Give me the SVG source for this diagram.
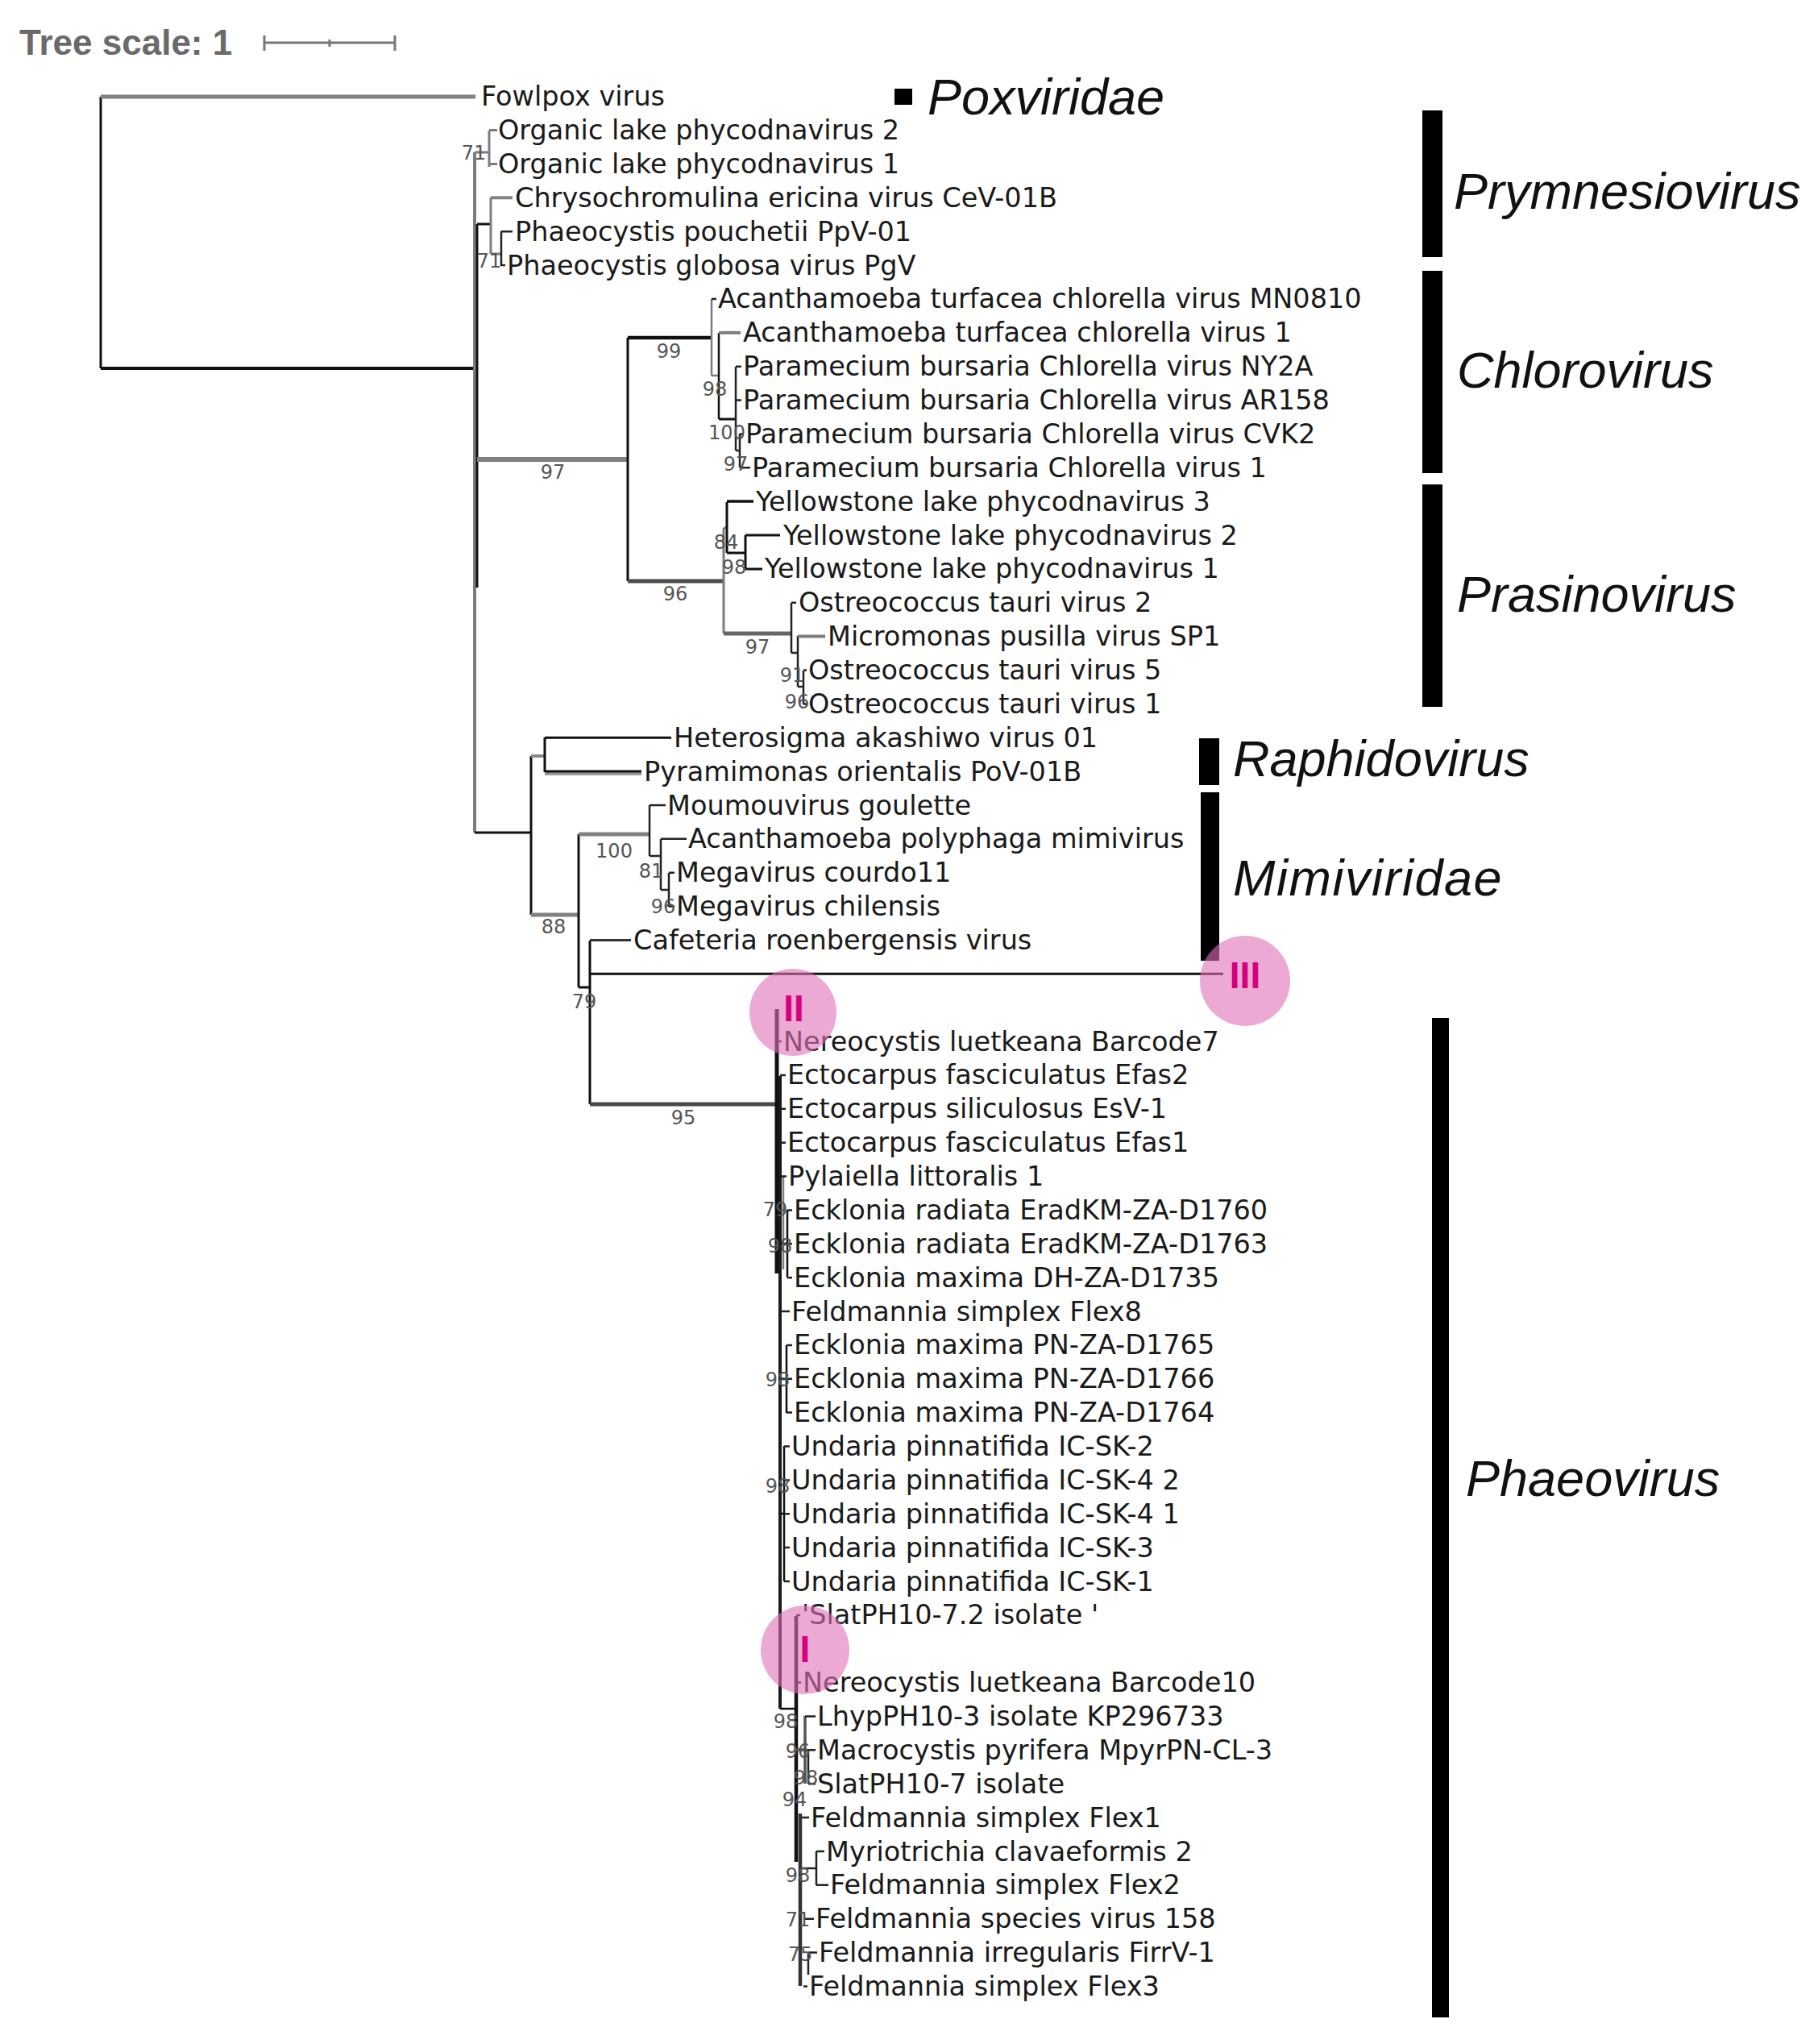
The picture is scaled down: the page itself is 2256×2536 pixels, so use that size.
<svg xmlns="http://www.w3.org/2000/svg" width="2256" height="2536" viewBox="0 0 2256 2536">
<style>
.lf{font-family:"DejaVu Sans",sans-serif;font-size:33.5px;fill:#1a1a1a}
.bs{font-family:"DejaVu Sans",sans-serif;font-size:24px;fill:#555;text-anchor:middle}
.cl{font-family:"Liberation Sans",Arial,sans-serif;font-size:63px;font-style:italic;fill:#111}
.mk{font-family:"Liberation Sans",Arial,sans-serif;font-size:46px;font-weight:bold;fill:#d4007d;text-anchor:middle}
.k{stroke:#111;stroke-width:3;fill:none}
.kt{stroke:#111;stroke-width:4.5;fill:none}
.g{stroke:#7d7d7d;stroke-width:3;fill:none}
.gt{stroke:#808080;stroke-width:6;fill:none}
.dg{stroke:#4a4a4a;stroke-width:5;fill:none}
.t{stroke:#222;stroke-width:2.5;fill:none}
.bar{fill:#000}
.circ{fill:#df6fb6;fill-opacity:0.6}
</style>
<rect width="2256" height="2536" fill="#fff"/>
<g id="tree-scale">
<text x="24" y="68" style="font-family:'Liberation Sans',Arial,sans-serif;font-size:44px;font-weight:bold;fill:#6a6a6a">Tree scale: 1</text>
<path d="M328 53H490M328 44V63M490 44V63M409 49V58" stroke="#777" stroke-width="3" fill="none"/>
</g>
<g id="connectors">
<path class="k" d="M125 120V457"/>
<path class="gt" d="M125 120H590" style="stroke-width:5"/>
<path class="kt" d="M125 457H589" style="stroke-width:4"/>
<path class="g" d="M589 189V1033" style="stroke-width:4"/>
<path class="k" d="M592 278V729"/>
<path class="g" d="M589 189H607M607 162V207M607 161.6H617M607 203.4H617"/>
<path class="k" d="M592 278H609"/>
<path class="g" d="M609 245V315M609 315H622"/>
<path class="gt" d="M609 245.3H636" style="stroke-width:4"/>
<path class="t" d="M622 287V330M622 287.2H636M622 329.1H627"/>
<path class="gt" d="M592 570H779"/>
<path class="k" d="M779 419V721"/>
<path class="kt" d="M779 419H883"/>
<path class="g" d="M883 371V466M883 466H892" style="stroke-width:2.5"/>
<path class="t" d="M883 370.9H889"/>
<path class="k" d="M892 413V520" style="stroke-width:2.5"/>
<path class="g" d="M892 412.8H919" style="stroke-width:4"/>
<path class="k" d="M892 520H913"/>
<path class="t" d="M913 455V559M913 454.7H920M913 496.5H920M913 559H918M918 538V580M918 538.4H923M918 580.3H931"/>
<path class="dg" d="M779 721H898"/>
<path class="g" d="M898 655V786M898 655H902"/>
<path class="k" d="M902 623V686M902 686H925M925 664V706"/>
<path class="kt" d="M902 622.1H935" style="stroke-width:3.5"/>
<path class="k" d="M925 664H968M925 705.9H946"/>
<path class="dg" d="M898 786H982" style="stroke:#666"/>
<path class="t" d="M982 748V810M982 747.8H988M982 810H990M990 789V852"/>
<path class="g" d="M990 789.6H1024" style="stroke-width:4"/>
<path class="t" d="M990 852H997M997 832V874M997 831.5H1001M997 873.4H1001"/>
<path class="k" d="M589 1033H659M659 938V1135"/>
<path class="g" d="M659 938H676" style="stroke-width:4;stroke:#888"/>
<path class="k" d="M676 915V958M676 915.2H833"/>
<path class="g" d="M676 960H796" style="stroke-width:4;stroke:#999"/>
<path class="k" d="M676 957.1H796"/>
<path class="gt" d="M659 1135H718" style="stroke-width:5"/>
<path class="k" d="M718 1035V1225"/>
<path class="gt" d="M718 1035H806" style="stroke-width:5"/>
<path class="t" d="M806 999V1062M806 999H826M806 1062H820M820 1041V1104M820 1040.8H852M820 1104H830M830 1083V1125M830 1082.7H837M830 1124.6H837"/>
<path class="k" d="M718 1225H732M732 1167V1370"/>
<path class="k" d="M732 1166.5H783" style="stroke:#333"/>
<path class="k" d="M732 1208.3H1518"/>
<path class="dg" d="M732 1370H964"/>
<path class="kt" d="M964 1252V1580" style="stroke-width:5"/>
<path class="kt" d="M968 1335V2120" style="stroke:#1a1a1a;stroke-width:4"/>
<path class="g" d="M972 1460V1575" style="stroke-width:2.5"/>
<path class="t" d="M964 1292.1H970M968 1333.9H975M968 1375.8H975M968 1417.7H975M970 1459.5H976"/>
<path class="k" d="M968 1543H977M977 1501V1585" style="stroke-width:2.5"/>
<path class="t" d="M977 1501.4H983M977 1543.3H983M977 1585.2H983M968 1627H980"/>
<path class="k" d="M968 1711H976M976 1669V1753" style="stroke-width:2.5"/>
<path class="t" d="M976 1668.9H983M976 1710.8H983M976 1752.6H983"/>
<path class="k" d="M968 1878H973M973 1794V1962" style="stroke-width:2.5"/>
<path class="t" d="M973 1794.5H980M973 1836.4H980M973 1878.2H980M973 1920.1H980M973 1962H980"/>
<path class="k" d="M968 2120H987" style="stroke-width:2.5"/>
<path class="kt" d="M988 2005V2310" style="stroke-width:4.5"/>
<path class="t" d="M988 2003.9H993M988 2087.6H994"/>
<path class="g" d="M988 2171H999M999 2129V2213" style="stroke-width:3.5;stroke:#555"/>
<path class="t" d="M999 2129.5H1012M999 2171.3H1012M1003 2171V2213M1003 2213.2H1012"/>
<path class="dg" d="M993 2250V2464" style="stroke:#333;stroke-width:4.5"/>
<path class="t" d="M995 2255.1H1004M995 2318H1013M1013 2297V2339M1013 2297H1023M1013 2338.8H1028M997 2380.7H1010M1003 2422.6H1014M1003 2422V2450M997 2464.4H1002"/>
</g>
<g id="leaves">
<g id="n0"><text class="lf" x="597" y="131.2">Fowlpox virus</text></g>
<g id="n1"><text class="lf" x="618" y="173.1">Organic lake phycodnavirus 2</text></g>
<g id="n2"><text class="lf" x="618" y="214.9">Organic lake phycodnavirus 1</text></g>
<g id="n3"><text class="lf" x="639" y="256.8">Chrysochromulina ericina virus CeV-01B</text></g>
<g id="n4"><text class="lf" x="639" y="298.7">Phaeocystis pouchetii PpV-01</text></g>
<g id="n5"><text class="lf" x="629" y="340.6">Phaeocystis globosa virus PgV</text></g>
<g id="n6"><text class="lf" x="891" y="382.4">Acanthamoeba turfacea chlorella virus MN0810</text></g>
<g id="n7"><text class="lf" x="922" y="424.3">Acanthamoeba turfacea chlorella virus 1</text></g>
<g id="n8"><text class="lf" x="922" y="466.2">Paramecium bursaria Chlorella virus NY2A</text></g>
<g id="n9"><text class="lf" x="922" y="508">Paramecium bursaria Chlorella virus AR158</text></g>
<g id="n10"><text class="lf" x="925" y="549.9">Paramecium bursaria Chlorella virus CVK2</text></g>
<g id="n11"><text class="lf" x="933" y="591.8">Paramecium bursaria Chlorella virus 1</text></g>
<g id="n12"><text class="lf" x="938" y="633.6">Yellowstone lake phycodnavirus 3</text></g>
<g id="n13"><text class="lf" x="972" y="675.5">Yellowstone lake phycodnavirus 2</text></g>
<g id="n14"><text class="lf" x="949" y="717.4">Yellowstone lake phycodnavirus 1</text></g>
<g id="n15"><text class="lf" x="991" y="759.3">Ostreococcus tauri virus 2</text></g>
<g id="n16"><text class="lf" x="1027" y="801.1">Micromonas pusilla virus SP1</text></g>
<g id="n17"><text class="lf" x="1003" y="843">Ostreococcus tauri virus 5</text></g>
<g id="n18"><text class="lf" x="1003" y="884.9">Ostreococcus tauri virus 1</text></g>
<g id="n19"><text class="lf" x="836" y="926.7">Heterosigma akashiwo virus 01</text></g>
<g id="n20"><text class="lf" x="799" y="968.6">Pyramimonas orientalis PoV-01B</text></g>
<g id="n21"><text class="lf" x="828" y="1010.5">Moumouvirus goulette</text></g>
<g id="n22"><text class="lf" x="854" y="1052.3">Acanthamoeba polyphaga mimivirus</text></g>
<g id="n23"><text class="lf" x="839" y="1094.2">Megavirus courdo11</text></g>
<g id="n24"><text class="lf" x="839" y="1136.1">Megavirus chilensis</text></g>
<g id="n25"><text class="lf" x="786" y="1178">Cafeteria roenbergensis virus</text></g>
<g id="n28"><text class="lf" x="972" y="1303.6">Nereocystis luetkeana Barcode7</text></g>
<g id="n29"><text class="lf" x="977" y="1345.4">Ectocarpus fasciculatus Efas2</text></g>
<g id="n30"><text class="lf" x="977" y="1387.3">Ectocarpus siliculosus EsV-1</text></g>
<g id="n31"><text class="lf" x="977" y="1429.2">Ectocarpus fasciculatus Efas1</text></g>
<g id="n32"><text class="lf" x="978" y="1471">Pylaiella littoralis 1</text></g>
<g id="n33"><text class="lf" x="985" y="1512.9">Ecklonia radiata EradKM-ZA-D1760</text></g>
<g id="n34"><text class="lf" x="985" y="1554.8">Ecklonia radiata EradKM-ZA-D1763</text></g>
<g id="n35"><text class="lf" x="985" y="1596.7">Ecklonia maxima DH-ZA-D1735</text></g>
<g id="n36"><text class="lf" x="982" y="1638.5">Feldmannia simplex Flex8</text></g>
<g id="n37"><text class="lf" x="985" y="1680.4">Ecklonia maxima PN-ZA-D1765</text></g>
<g id="n38"><text class="lf" x="985" y="1722.3">Ecklonia maxima PN-ZA-D1766</text></g>
<g id="n39"><text class="lf" x="985" y="1764.1">Ecklonia maxima PN-ZA-D1764</text></g>
<g id="n40"><text class="lf" x="982" y="1806">Undaria pinnatifida IC-SK-2</text></g>
<g id="n41"><text class="lf" x="982" y="1847.9">Undaria pinnatifida IC-SK-4 2</text></g>
<g id="n42"><text class="lf" x="982" y="1889.7">Undaria pinnatifida IC-SK-4 1</text></g>
<g id="n43"><text class="lf" x="982" y="1931.6">Undaria pinnatifida IC-SK-3</text></g>
<g id="n44"><text class="lf" x="982" y="1973.5">Undaria pinnatifida IC-SK-1</text></g>
<g id="n45"><text class="lf" x="995" y="2015.4">'SlatPH10-7.2 isolate '</text></g>
<g id="n47"><text class="lf" x="996" y="2099.1">Nereocystis luetkeana Barcode10</text></g>
<g id="n48"><text class="lf" x="1014" y="2141">LhypPH10-3 isolate KP296733</text></g>
<g id="n49"><text class="lf" x="1014" y="2182.8">Macrocystis pyrifera MpyrPN-CL-3</text></g>
<g id="n50"><text class="lf" x="1014" y="2224.7">SlatPH10-7 isolate</text></g>
<g id="n51"><text class="lf" x="1006" y="2266.6">Feldmannia simplex Flex1</text></g>
<g id="n52"><text class="lf" x="1025" y="2308.5">Myriotrichia clavaeformis 2</text></g>
<g id="n53"><text class="lf" x="1030" y="2350.3">Feldmannia simplex Flex2</text></g>
<g id="n54"><text class="lf" x="1012" y="2392.2">Feldmannia species virus 158</text></g>
<g id="n55"><text class="lf" x="1016" y="2434.1">Feldmannia irregularis FirrV-1</text></g>
<g id="n56"><text class="lf" x="1004" y="2475.9">Feldmannia simplex Flex3</text></g>
</g>
<g id="bootstrap">
<text class="bs" x="588" y="198">71</text>
<text class="bs" x="607" y="332">71</text>
<text class="bs" x="830" y="444">99</text>
<text class="bs" x="887" y="491">98</text>
<text class="bs" x="902" y="545">100</text>
<text class="bs" x="913" y="584">97</text>
<text class="bs" x="686" y="594">97</text>
<text class="bs" x="901" y="681">84</text>
<text class="bs" x="911" y="712">98</text>
<text class="bs" x="838" y="745">96</text>
<text class="bs" x="940" y="811">97</text>
<text class="bs" x="983" y="846">91</text>
<text class="bs" x="989" y="879">96</text>
<text class="bs" x="762" y="1064">100</text>
<text class="bs" x="808" y="1089">81</text>
<text class="bs" x="823" y="1133">96</text>
<text class="bs" x="687" y="1158">88</text>
<text class="bs" x="725" y="1251">79</text>
<text class="bs" x="848" y="1395">95</text>
<text class="bs" x="962" y="1509">79</text>
<text class="bs" x="968" y="1554">98</text>
<text class="bs" x="965" y="1720">98</text>
<text class="bs" x="965" y="1852">98</text>
<text class="bs" x="975" y="2144">98</text>
<text class="bs" x="990" y="2181">96</text>
<text class="bs" x="1000" y="2214">98</text>
<text class="bs" x="986" y="2241">94</text>
<text class="bs" x="990" y="2335">98</text>
<text class="bs" x="990" y="2390">71</text>
<text class="bs" x="993" y="2433">75</text>
</g>
<g id="clade-poxviridae"><rect class="bar" x="1110" y="110" width="22" height="20"/><text class="cl" x="1151" y="142">Poxviridae</text></g>
<g id="clade-prymnesiovirus"><rect class="bar" x="1765" y="137" width="25" height="182"/><text class="cl" x="1804" y="259">Prymnesiovirus</text></g>
<g id="clade-chlorovirus"><rect class="bar" x="1765" y="336" width="25" height="251"/><text class="cl" x="1808" y="481">Chlorovirus</text></g>
<g id="clade-prasinovirus"><rect class="bar" x="1765" y="601" width="25" height="276"/><text class="cl" x="1808" y="759">Prasinovirus</text></g>
<g id="clade-raphidovirus"><rect class="bar" x="1488" y="916" width="25" height="58"/><text class="cl" x="1530" y="963">Raphidovirus</text></g>
<g id="clade-mimiviridae"><rect class="bar" x="1490" y="983" width="23" height="209"/><text class="cl" x="1530" y="1111" style="letter-spacing:1.5px">Mimiviridae</text></g>
<g id="clade-phaeovirus"><rect class="bar" x="1777" y="1263" width="21" height="1240"/><text class="cl" x="1819" y="1856">Phaeovirus</text></g>
<g id="marker-III"><circle class="circ" cx="1545" cy="1217" r="56"/><text class="mk" x="1545" y="1226">III</text></g>
<g id="marker-II"><circle class="circ" cx="984" cy="1256" r="54"/><text class="mk" x="985" y="1267">II</text></g>
<g id="marker-I"><circle class="circ" cx="999" cy="2047" r="55"/><text class="mk" x="999" y="2062">I</text></g>
</svg>
